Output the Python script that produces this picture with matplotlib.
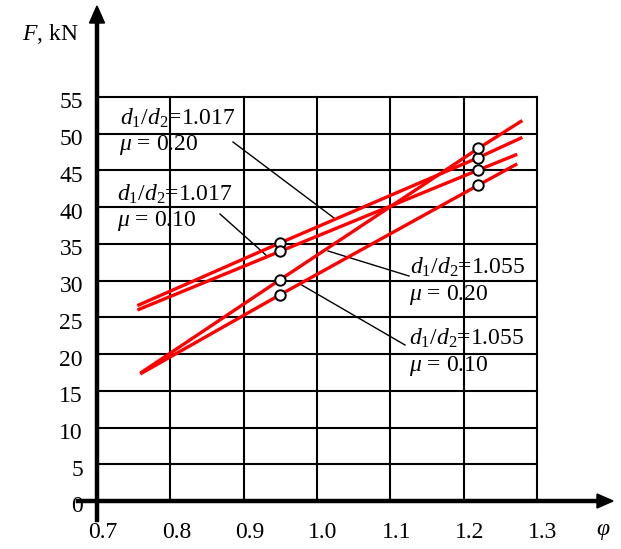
import matplotlib
matplotlib.use("Agg")
import matplotlib.pyplot as plt
from matplotlib.patches import Polygon

plt.rcParams['font.family'] = ['Liberation Serif', 'DejaVu Serif']
plt.rcParams['mathtext.fontset'] = 'custom'
plt.rcParams['mathtext.rm'] = 'Liberation Serif'
plt.rcParams['mathtext.it'] = 'Liberation Serif:italic'

# ---------------- data ----------------
phi_ticks = [0.7, 0.8, 0.9, 1.0, 1.1, 1.2, 1.3]
phi_tick_labels = ["0.7", "0.8", "0.9", "1.0", "1.1", "1.2", "1.3"]
F_ticks = [0, 5, 10, 15, 20, 25, 30, 35, 40, 45, 50, 55]

# line polylines: start, measured point at 0.95, measured point at 1.22, end
phi_1017_020 = [0.755, 0.95, 1.22, 1.28]
F_1017_020 = [26.6, 35.15, 46.75, 49.5]
phi_1017_010 = [0.755, 0.95, 1.22, 1.273]
F_1017_010 = [26.0, 34.0, 45.06, 47.2]
phi_1055_020 = [0.759, 0.95, 1.22, 1.28]
F_1055_020 = [17.4, 30.15, 48.0, 51.8]
phi_1055_010 = [0.759, 0.95, 1.22, 1.273]
F_1055_010 = [17.3, 28.1, 43.0, 45.9]

labels = [r"$d_1/d_2$=1.017", r"$d_1/d_2$=1.055"]
mu_labels = [r"$\mu$ = 0.20", r"$\mu$ = 0.10"]

# ---------------- figure ----------------
W, H = 621, 549
fig = plt.figure(figsize=(W / 100, H / 100), dpi=100)
ax = fig.add_axes([97 / W, 48 / H, 440 / W, 404 / H])
ax.set_xlim(0.7, 1.3)
ax.set_ylim(0, 55)


def px(x, y):
    """convert figure pixel (from top-left) to data coords"""
    return 0.7 + (x - 97) / 440 * 0.6, (501 - y) / 404 * 55


# grid
for v in phi_ticks[1:]:
    ax.axvline(v, color='black', lw=1.5, clip_on=False, zorder=1)
for v in F_ticks[1:]:
    ax.axhline(v, color='black', lw=1.5, clip_on=False, zorder=1)
for s in ax.spines.values():
    s.set_visible(False)
ax.set_xticks([])
ax.set_yticks([])

# red lines and markers
for xs, ys in [(phi_1017_020, F_1017_020), (phi_1017_010, F_1017_010),
               (phi_1055_020, F_1055_020), (phi_1055_010, F_1055_010)]:
    ax.plot(xs, ys, color='#ff0000', lw=2.4, solid_capstyle='butt', zorder=3, clip_on=False)
for xs, ys in [(phi_1017_020, F_1017_020), (phi_1017_010, F_1017_010),
               (phi_1055_020, F_1055_020), (phi_1055_010, F_1055_010)]:
    ax.plot(xs[1:3], ys[1:3], ls='none', marker='o', ms=7.5, mfc='white',
            mec='black', mew=1.4, zorder=4, clip_on=False)

# leader lines
leaders = [((233, 142), (334, 218)), ((220, 214), (267, 256)),
           ((328, 251), (409, 276)), ((300, 284), (405, 345))]
for a, b in leaders:
    (x0, y0), (x1, y1) = px(*a), px(*b)
    ax.plot([x0, x1], [y0, y1], color='black', lw=1.0, zorder=2)

# annotation texts
fs = 17
text_pos = [
    ((120, 118), labels[0]), ((119, 145), mu_labels[0]),
    ((117, 194), labels[0]), ((117, 221), mu_labels[1]),
    ((410, 267), labels[1]), ((409, 295), mu_labels[0]),
    ((409, 338), labels[1]), ((409, 366), mu_labels[1]),
]
for (x, y), t in text_pos:
    dx, dy = px(x, y)
    ax.text(dx, dy, t, fontsize=fs, ha='left', va='center', zorder=5)

# axes with arrows (in pixel coords)
lw_axis = 3.2
fig.add_artist(plt.Line2D([97 / W, 97 / W], [(H - 520) / H, (H - 20) / H],
                          color='black', lw=lw_axis, transform=fig.transFigure))
fig.add_artist(plt.Line2D([78 / W, 600 / W], [(H - 501) / H, (H - 501) / H],
                          color='black', lw=lw_axis, transform=fig.transFigure))
fig.add_artist(Polygon([[97 / W, (H - 6) / H], [89.5 / W, (H - 23) / H], [104.5 / W, (H - 23) / H]],
                       closed=True, color='black', transform=fig.transFigure))
fig.add_artist(Polygon([[613 / W, (H - 501) / H], [597 / W, (H - 494) / H], [597 / W, (H - 508) / H]],
                       closed=True, color='black', transform=fig.transFigure))

# tick labels
for v, lab in zip(phi_ticks, phi_tick_labels):
    x_px = 97 + (v - 0.7) / 0.6 * 440 + 6
    fig.text(x_px / W, (H - 533) / H, lab, fontsize=fs, ha='center', va='center')
for v in F_ticks:
    y_px = 501 - v / 55 * 404 + 6
    fig.text(83 / W, (H - y_px) / H, str(v), fontsize=fs, ha='right', va='center')

# axis titles
fig.text(79 / W, (H - 34) / H, r"$F$, kN", fontsize=fs, ha='right', va='center')
fig.text(603 / W, (H - 531) / H, r"$\varphi$", fontsize=fs, ha='center', va='center')

fig.savefig("out.png", dpi=100)
